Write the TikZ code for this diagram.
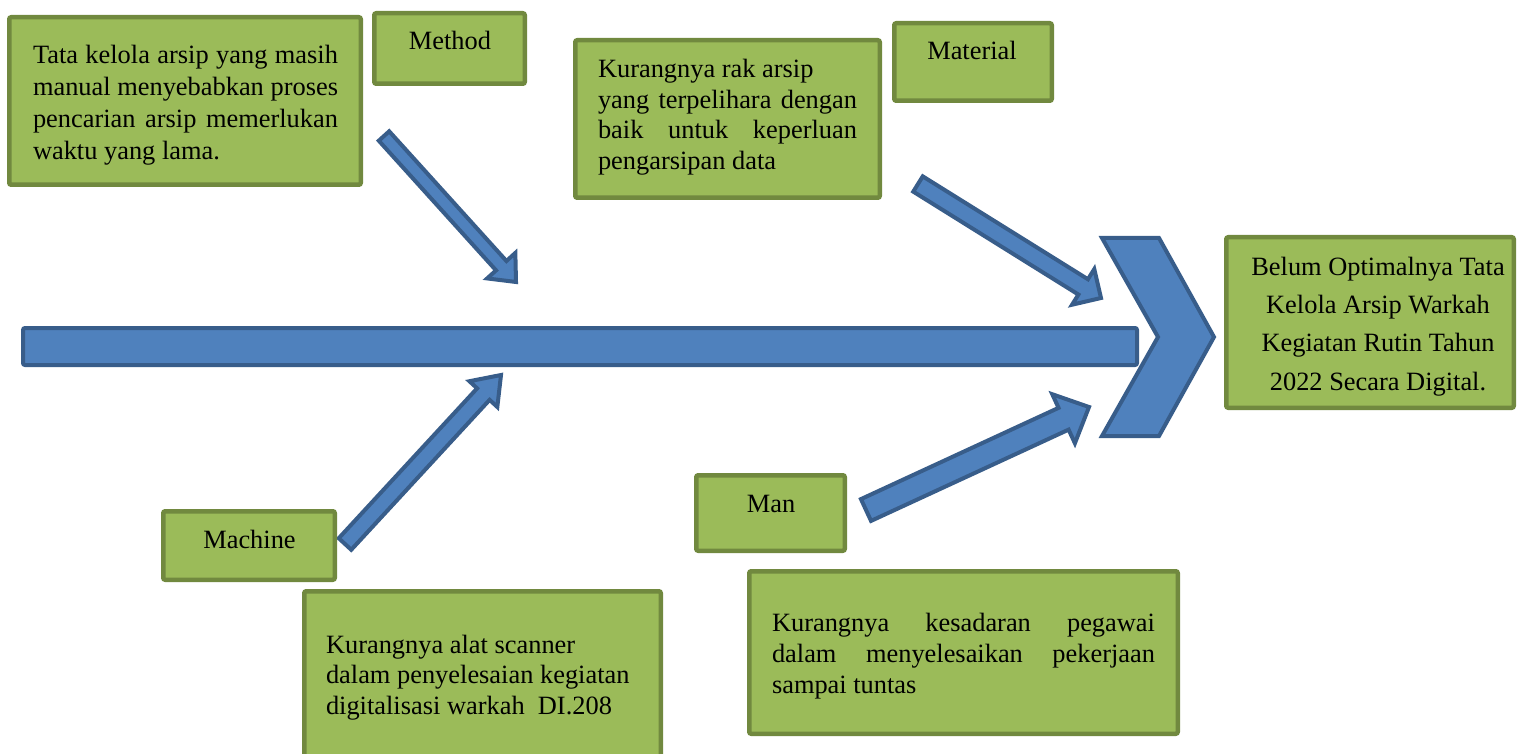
\documentclass[tikz,border=0pt]{standalone}
\usepackage{fontspec}
\setmainfont{Liberation Serif}
\usetikzlibrary{calc}
\definecolor{gfill}{HTML}{9BBB59}
\definecolor{gline}{HTML}{71893F}
\definecolor{bfill}{HTML}{4F81BD}
\definecolor{bline}{HTML}{385D8A}
\tikzset{
  gbox/.style={draw=gline, fill=gfill, line width=4.5pt, rounded corners=2pt, inner sep=0pt, outer sep=0pt},
  bshape/.style={draw=bline, fill=bfill, line width=4pt, line join=miter},
  txt/.style={inner sep=0pt, outer sep=0pt, font=\fontsize{26.4}{32}\selectfont},
}
\newcommand\tfont[1]{\fontsize{26.4}{#1}\selectfont}
\newcommand\gboxnode[5]{\node[gbox, minimum width={#4pt-#2pt-4.5pt}, minimum height={#5pt-#3pt-4.5pt}] (#1) at ({(#2+#4)/2},{(#3+#5)/2}) {};}
\newcommand\blockarrow[5]{%
  \coordinate (#1-h) at ($(#2)!#5pt!(#1)$);
  \draw[bshape] ($(#1)!#3pt!90:(#2)$) -- ($(#1-h)!#3pt!90:(#2)$) -- ($(#1-h)!#4pt!90:(#2)$) -- (#2)
     -- ($(#1-h)!#4pt!-90:(#2)$) -- ($(#1-h)!#3pt!-90:(#2)$) -- ($(#1)!#3pt!-90:(#2)$) -- cycle;
}
\begin{document}
\begin{tikzpicture}[x=1pt,y=-1pt]
\useasboundingbox (0,0) rectangle (1518,754);
\clip (0,0) rectangle (1518,754);

% spine and head
\node[bshape, rounded corners=2pt, inner sep=0pt, outer sep=0pt, minimum width=1114pt, minimum height=37pt] (spine) at (580,346.5) {};
\draw[bshape] (1102,238) -- (1159,238) -- (1214,337) -- (1159,436) -- (1102,436) -- (1158,337) -- cycle;

% arrows
\coordinate (mt) at (384,136);  \coordinate (mp) at (516,282);
\coordinate (at) at (918,184);  \coordinate (ap) at (1101,298);
\coordinate (ct) at (345,544);  \coordinate (cp) at (501,375);
\coordinate (nt) at (866,510);  \coordinate (np) at (1089,407);
\blockarrow{mt}{mp}{7}{19}{22}
\blockarrow{at}{ap}{9}{21}{21}
\blockarrow{ct}{cp}{8.5}{19}{26}
\blockarrow{nt}{np}{12}{27}{28}

% boxes
\gboxnode{b1}{7}{15}{363}{187}
\gboxnode{bm}{372}{11}{527}{86}
\gboxnode{b2}{573}{38}{882}{200}
\gboxnode{ba}{892}{21}{1054}{103}
\gboxnode{be}{1224}{235}{1516}{410}
\gboxnode{bc}{161}{509}{337}{582}
\gboxnode{bn}{694}{473}{847}{553}
\gboxnode{b3}{302}{589}{663}{790}
\gboxnode{b4}{747}{569}{1180}{736}

% texts
\node[txt, anchor=base west] (t1) at (33,64) {\parbox[t]{305pt}{\tfont{32}%
\makebox[305pt][s]{Tata kelola arsip yang masih}\\
\makebox[305pt][s]{manual menyebabkan proses}\\
\makebox[305pt][s]{pencarian arsip memerlukan}\\
waktu yang lama.}};
\node[txt, anchor=base] (lm) at (450,50) {Method};

\node[txt, anchor=base west] (t2) at (598,78) {\parbox[t]{259pt}{\tfont{30.5}%
Kurangnya rak arsip\\
\makebox[259pt][s]{yang terpelihara dengan}\\
\makebox[259pt][s]{baik untuk keperluan}\\
pengarsipan data}};
\node[txt, anchor=base] (la) at (972,60) {Material};

\node[txt, anchor=base] (te) at (1378,275) {\parbox[t]{290pt}{\centering\tfont{38.5}%
Belum Optimalnya Tata\\
Kelola Arsip Warkah\\
Kegiatan Rutin Tahun\\
2022 Secara Digital.}};

\node[txt, anchor=base] (lc) at (249.5,548) {Machine};
\node[txt, anchor=base] (ln) at (771,512) {Man};

\node[txt, anchor=base west] (t3) at (326,653) {\parbox[t]{330pt}{\tfont{30.5}%
Kurangnya alat scanner\\
dalam penyelesaian kegiatan\\
digitalisasi warkah\ \ DI.208}};

\node[txt, anchor=base west] (t4) at (772,631) {\parbox[t]{383pt}{\tfont{31}%
\makebox[383pt][s]{Kurangnya kesadaran pegawai}\\
\makebox[383pt][s]{dalam menyelesaikan pekerjaan}\\
sampai tuntas}};
\end{tikzpicture}
\end{document}
